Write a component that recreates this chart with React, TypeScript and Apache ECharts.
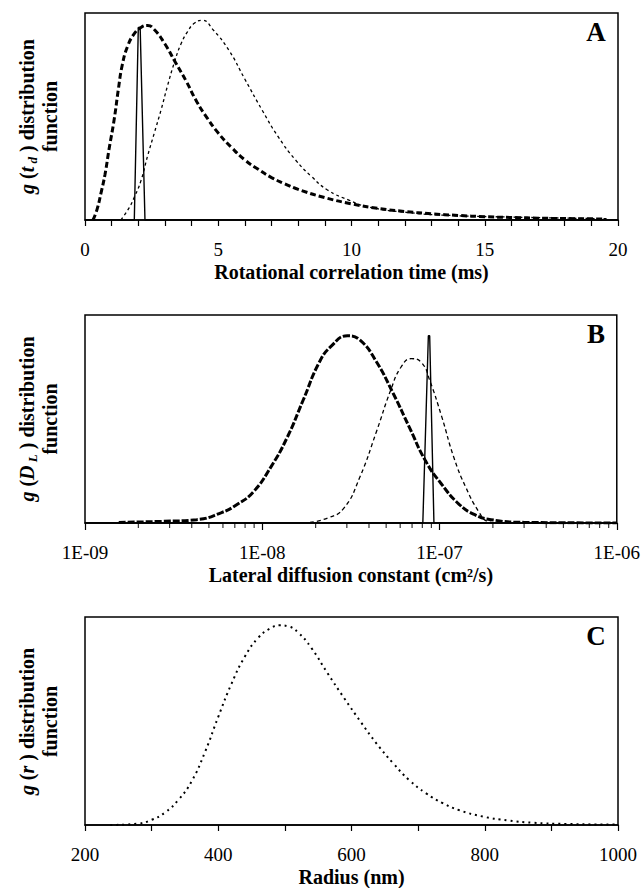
import React, { useEffect, useRef } from "react";
import * as echarts from "echarts";

// ---------- Panel A: rotational correlation time (ms) ----------
const aTicks = [0, 5, 10, 15, 20];
const aThick: [number, number][] = [
  [0.3, 0], [0.45, 0.05], [0.6, 0.13], [0.75, 0.22], [0.9, 0.34], [1.1, 0.49], [1.25, 0.63],
  [1.4, 0.75], [1.6, 0.84], [1.85, 0.9], [2.1, 0.93], [2.35, 0.94], [2.6, 0.92], [3.0, 0.85],
  [3.4, 0.76], [3.8, 0.67], [4.2, 0.57], [4.6, 0.49], [5.0, 0.42], [5.5, 0.35], [6.0, 0.29],
  [6.5, 0.245], [7.0, 0.205], [7.5, 0.175], [8.0, 0.148], [9.0, 0.108], [10, 0.078],
  [11, 0.056], [12, 0.041], [13, 0.03], [14, 0.022], [15, 0.016], [16, 0.012], [17, 0.009],
  [18, 0.007], [19.5, 0.005],
];
const aDotted: [number, number][] = [
  [1.35, 0], [1.66, 0.06], [1.85, 0.11], [2.1, 0.19], [2.35, 0.31], [2.6, 0.42], [2.85, 0.53],
  [3.1, 0.65], [3.35, 0.76], [3.6, 0.85], [3.85, 0.91], [4.1, 0.95], [4.4, 0.965], [4.8, 0.92],
  [5.4, 0.82], [6.0, 0.68], [6.65, 0.53], [7.26, 0.4], [7.9, 0.29], [8.5, 0.21], [9.1, 0.145],
  [9.9, 0.096], [10.6, 0.064], [12.2, 0.035], [13.7, 0.022], [15.3, 0.016], [17.6, 0.01],
  [19.6, 0.006],
];
const aSolid: [number, number][] = [
  [0, 0], [1.85, 0], [2.0, 0.93], [2.07, 0.93], [2.25, 0], [20, 0],
];

// ---------- Panel B: lateral diffusion constant (cm2/s) ----------
const bTicks = [1e-9, 1e-8, 1e-7, 1e-6];
const bMinorMultipliers = [2, 3, 4, 5, 6, 7, 8, 9];
const bThick: [number, number][] = [
  [1.55e-9, 0.003], [2.75e-9, 0.008], [4.27e-9, 0.016], [5.89e-9, 0.05], [7.24e-9, 0.09],
  [8.91e-9, 0.15], [1.12e-8, 0.27], [1.38e-8, 0.41], [1.7e-8, 0.59], [2.09e-8, 0.77],
  [2.45e-8, 0.85], [3.02e-8, 0.9], [3.55e-8, 0.88], [4.37e-8, 0.78], [5.5e-8, 0.62],
  [6.76e-8, 0.46], [8.32e-8, 0.3], [1.02e-7, 0.19], [1.29e-7, 0.09], [1.58e-7, 0.04],
  [1.95e-7, 0.016], [3.02e-7, 0.003], [1e-6, 0],
];
const bDotted: [number, number][] = [
  [1.86e-8, 0.003], [2.34e-8, 0.024], [2.88e-8, 0.07], [3.55e-8, 0.22], [4.41e-8, 0.44],
  [5.31e-8, 0.64], [6.07e-8, 0.75], [6.92e-8, 0.79], [7.94e-8, 0.77], [8.81e-8, 0.685],
  [1.03e-7, 0.51], [1.21e-7, 0.31], [1.41e-7, 0.17], [1.66e-7, 0.056], [1.86e-7, 0.008],
  [2.09e-7, 0],
];
const bSolid: [number, number][] = [
  [1e-9, 0], [8.05e-8, 0], [8.65e-8, 0.9], [8.8e-8, 0.9], [9.3e-8, 0], [1e-6, 0],
];

// ---------- Panel C: radius (nm) ----------
const cTicks = [200, 400, 600, 800, 1000];
const cDotted: [number, number][] = [
  [238, 0], [278, 0.006], [300, 0.025], [320, 0.06], [340, 0.12], [360, 0.21], [380, 0.35],
  [400, 0.52], [420, 0.68], [440, 0.81], [460, 0.9], [478, 0.945], [492, 0.96], [505, 0.955],
  [520, 0.925], [540, 0.85], [564, 0.73], [589, 0.61], [614, 0.495], [638, 0.39],
  [663, 0.295], [687, 0.215], [712, 0.152], [737, 0.105], [761, 0.072], [798, 0.04],
  [835, 0.022], [872, 0.011], [921, 0.005], [1000, 0.002],
];

const SERIF = "'Liberation Serif', 'Times New Roman', serif";

export default function App() {
  const ref = useRef<HTMLDivElement>(null);

  useEffect(() => {
    if (!ref.current) return;
    const chart = echarts.init(ref.current, undefined, { renderer: "svg" });

    const grids = [
      { left: 85, top: 13, width: 533, height: 207 },
      { left: 85, top: 315, width: 533, height: 208 },
      { left: 85, top: 617, width: 533, height: 209 },
    ].map((g) => ({
      ...g,
      show: true,
      borderColor: "#000",
      borderWidth: 1.5,
      backgroundColor: "transparent",
    }));

    const tickStyle = { color: "#000", width: 1.2 };
    const baseX = {
      axisLine: { show: true, onZero: false, lineStyle: { color: "#000", width: 1.5 } },
      axisTick: { show: true, inside: false, length: 6, lineStyle: tickStyle },
      axisLabel: {
        color: "#000",
        fontFamily: SERIF,
        fontSize: 19,
        margin: 20,
        formatter: (v: number) => String(v),
      },
      splitLine: { show: false },
      nameLocation: "middle" as const,
      nameGap: 42,
      nameTextStyle: { color: "#000", fontFamily: SERIF, fontWeight: "bold" as const, fontSize: 20 },
    };

    const decadeLabel = (v: number) => {
      const e = Math.round(Math.log10(v));
      return "1E" + (e < 0 ? "-" : "+") + String(Math.abs(e)).padStart(2, "0");
    };

    const bMinorTicks: [number, number][] = [];
    bTicks.slice(0, -1).forEach((d) =>
      bMinorMultipliers.forEach((m) => bMinorTicks.push([m * d, 0]))
    );

    const yAxes = [0, 1, 2].map((i) => ({
      gridIndex: i,
      type: "value" as const,
      min: 0,
      max: 1,
      axisLine: { show: false },
      axisTick: { show: false },
      axisLabel: { show: false },
      splitLine: { show: false },
    }));

    const rich = {
      b: { fontFamily: SERIF, fontWeight: "bold", fontSize: 20, lineHeight: 23, fill: "#000", color: "#000" },
      bi: { fontFamily: SERIF, fontWeight: "bold", fontStyle: "italic", fontSize: 20, lineHeight: 23, fill: "#000", color: "#000" },
      sub: { fontFamily: SERIF, fontWeight: "bold", fontStyle: "italic", fontSize: 13, lineHeight: 13, verticalAlign: "bottom", fill: "#000", color: "#000" },
    };
    const yTitles = [
      "{bi|g }{b|(}{bi|t}{sub| d}{b| ) distribution}\n{b|function}",
      "{bi|g }{b|(}{bi|D}{sub| L}{b| ) distribution}\n{b|function}",
      "{bi|g }{b|(}{bi|r}{b| ) distribution}\n{b|function}",
    ];
    const panelLetters = ["A", "B", "C"];

    const graphics: any[] = [];
    grids.forEach((g, i) => {
      graphics.push({
        type: "text",
        x: 38.5,
        y: g.top + g.height / 2,
        rotation: Math.PI / 2,
        style: { text: yTitles[i], rich, align: "center", verticalAlign: "middle", fill: "#000" },
      });
      graphics.push({
        type: "text",
        x: 596,
        y: g.top + 19,
        style: {
          text: panelLetters[i],
          fontFamily: SERIF,
          fontWeight: "bold",
          fontSize: 27,
          fill: "#000",
          align: "center",
          verticalAlign: "middle",
        },
      });
    });

    const line = (
      data: [number, number][],
      idx: number,
      width: number,
      type: any,
      smooth: boolean
    ) => ({
      type: "line" as const,
      xAxisIndex: idx,
      yAxisIndex: idx,
      data,
      showSymbol: false,
      symbol: "none",
      smooth: smooth ? 0.5 : false,
      silent: true,
      lineStyle: { color: "#000", width, type },
    });

    chart.setOption({
      animation: false,
      backgroundColor: "#fff",
      grid: grids,
      xAxis: [
        {
          ...baseX,
          gridIndex: 0,
          type: "value",
          min: aTicks[0],
          max: aTicks[aTicks.length - 1],
          interval: 5,
          minorTick: { show: true, splitNumber: 5, length: 6, lineStyle: tickStyle },
          name: "Rotational correlation time (ms)",
        },
        {
          ...baseX,
          gridIndex: 1,
          type: "log",
          logBase: 10,
          min: bTicks[0],
          max: bTicks[bTicks.length - 1],
          axisTick: { show: true, inside: false, length: 7, lineStyle: tickStyle },
          axisLabel: { ...baseX.axisLabel, formatter: decadeLabel },
          name: "Lateral diffusion constant (cm\u00B2/s)",
        },
        {
          ...baseX,
          gridIndex: 2,
          type: "value",
          min: cTicks[0],
          max: cTicks[cTicks.length - 1],
          interval: 200,
          minorTick: { show: true, splitNumber: 2, length: 6, lineStyle: tickStyle },
          name: "Radius (nm)",
        },
      ],
      yAxis: yAxes,
      graphic: graphics,
      series: [
        line(aSolid, 0, 1.4, "solid", false),
        line(aThick, 0, 3, [6, 3], true),
        line(aDotted, 0, 1.3, [3, 3], true),
        line(bSolid, 1, 1.4, "solid", false),
        line(bThick, 1, 3, [7, 2], true),
        line(bDotted, 1, 1.3, [4, 3], true),
        line(cDotted, 2, 2, [2, 4], true),
        {
          type: "scatter",
          xAxisIndex: 1,
          yAxisIndex: 1,
          data: bMinorTicks,
          symbol: "rect",
          symbolSize: [1.2, 5],
          symbolOffset: [0, 2.5],
          clip: false,
          silent: true,
          itemStyle: { color: "#000" },
        },
      ],
    });

    return () => chart.dispose();
  }, []);

  return (
    <div
      ref={ref}
      style={{ position: "fixed", left: 0, top: 0, width: 643, height: 888, background: "#fff" }}
    />
  );
}
